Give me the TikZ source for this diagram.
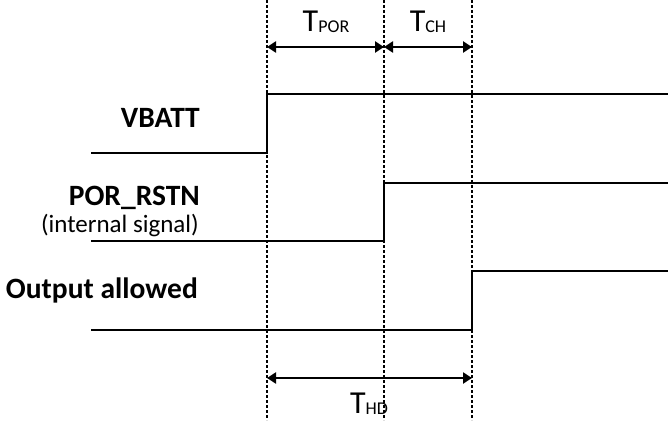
\documentclass[tikz,border=0pt]{standalone}
\usepackage{fontspec}
\setmainfont{Carlito}
\usetikzlibrary{arrows.meta}
\begin{document}
\begin{tikzpicture}[x=1pt,y=-1pt,
  sig/.style={line width=2.8pt,line cap=rect},
  guide/.style={line width=1.4pt,dash pattern=on 3pt off 2pt},
  dim/.style={line width=2.2pt,{Triangle[length=9pt,width=11pt]}-{Triangle[length=9pt,width=11pt]}},
  lab/.style={anchor=base east,inner sep=0pt,font=\fontsize{29.5}{32}\selectfont\bfseries},
  sublab/.style={anchor=base east,inner sep=0pt,font=\fontsize{25}{28}\selectfont},
  tlab/.style={anchor=base,inner sep=0pt,font=\fontsize{32}{36}\selectfont},
  subs/.style={}]
\useasboundingbox (0,0) rectangle (668,420);
% guide coordinates
\coordinate (g1t) at (267,0); \coordinate (g1b) at (267,420);
\coordinate (g2t) at (384,0); \coordinate (g2b) at (384,420);
\coordinate (g3t) at (472,0); \coordinate (g3b) at (472,420);
\draw[guide] (g1t) -- (g1b);
\draw[guide] (g2t) -- (g2b);
\draw[guide] (g3t) -- (g3b);
% signals
\coordinate (v0) at (92,153); \coordinate (v1) at (267,153); \coordinate (v2) at (267,94); \coordinate (v3) at (668,94);
\coordinate (p0) at (92,241); \coordinate (p1) at (384,241); \coordinate (p2) at (384,183); \coordinate (p3) at (668,183);
\coordinate (o0) at (92,330); \coordinate (o1) at (472,330); \coordinate (o2) at (472,271); \coordinate (o3) at (668,271);
\draw[sig] (v0) -- (v1) -- (v2) -- (v3);
\draw[sig] (p0) -- (p1) -- (p2) -- (p3);
\draw[sig] (o0) -- (o1) -- (o2) -- (o3);
% labels
\node[lab] (lv) at (200,127) {VBATT};
\node[lab] (lp) at (200,205) {POR\_RSTN};
\node[sublab] (li) at (199,232) {(internal signal)};
\node[lab] (lo) at (198,298) {Output allowed};
% dimension arrows
\coordinate (a1) at (267,47); \coordinate (a2) at (384,47); \coordinate (a3) at (472,47);
\coordinate (b1) at (267,378); \coordinate (b2) at (472,378);
\draw[dim] (a1) -- (a2);
\draw[dim] (a2) -- (a3);
\draw[dim] (b1) -- (b2);
\node[tlab] (tpor) at (326,31) {T\raisebox{-1.5pt}{\fontsize{18}{20}\selectfont POR}};
\node[tlab] (tch) at (428,31) {T\raisebox{-1.5pt}{\fontsize{18}{20}\selectfont CH}};
\node[tlab] (thd) at (369,413) {T\raisebox{-1.5pt}{\fontsize{18}{20}\selectfont HD}};
\end{tikzpicture}
\end{document}
